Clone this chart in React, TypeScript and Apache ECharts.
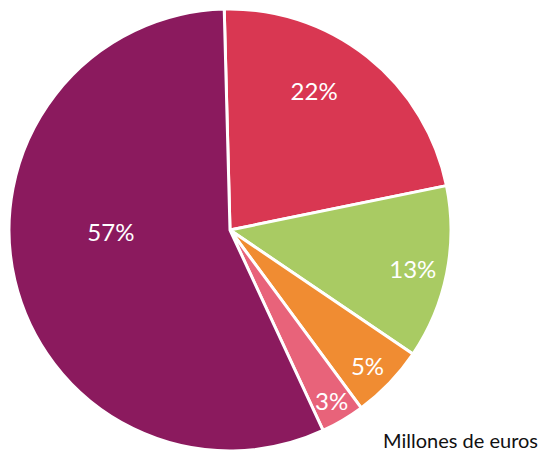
import React, { useEffect, useRef } from "react";
import * as echarts from "echarts";

const categories = ["A", "B", "C", "D", "E"];
const values = [22.2, 12.7, 5.4, 3.2, 56.5];
const labels = ["22%", "13%", "5%", "3%", "57%"];
const colors = ["#D93752", "#A9CB63", "#F08C32", "#E8637A", "#8B1A5E"];
const labelRadiusFactor = [1.437, 1.645, 1.7, 1.75, 1.05];
const labelAngleShift = [7.4, -0.5, -0.7, 0.1, -12.7];
const unitText = "Millones de euros";

const CENTER = [230, 230];
const RADIUS = 221;

export default function App() {
  const ref = useRef<HTMLDivElement>(null);
  useEffect(() => {
    document.body.style.margin = "0";
    const chart = echarts.init(ref.current!, null, { renderer: "svg" });
    chart.setOption({
      animation: false,
      backgroundColor: "#ffffff",
      graphic: [
        {
          type: "text",
          right: 4,
          bottom: 2,
          style: {
            text: unitText,
            fill: "#111111",
            fontSize: 20,
            fontFamily: "Lato",
          },
        },
      ],
      series: [
        {
          type: "pie",
          center: CENTER,
          radius: RADIUS,
          startAngle: 91.5,
          clockwise: true,
          avoidLabelOverlap: false,
          itemStyle: { borderColor: "#ffffff", borderWidth: 3 },
          label: {
            show: true,
            position: "inside",
            color: "#ffffff",
            fontSize: 24,
            fontFamily: "Lato",
            formatter: (p: any) => labels[p.dataIndex],
          },
          labelLine: { show: false },
          labelLayout: (params: any) => {
            const i = params.dataIndex;
            const lr = params.labelRect;
            const lx = lr.x + lr.width / 2;
            const ly = lr.y + lr.height / 2;
            const dx = lx - CENTER[0];
            const dy = CENTER[1] - ly;
            const r = Math.hypot(dx, dy) * labelRadiusFactor[i];
            const a = Math.atan2(dy, dx) + (labelAngleShift[i] * Math.PI) / 180;
            return {
              x: CENTER[0] + r * Math.cos(a),
              y: CENTER[1] - r * Math.sin(a),
              align: "center",
              verticalAlign: "middle",
            };
          },
          data: categories.map((c, i) => ({
            name: c,
            value: values[i],
            itemStyle: { color: colors[i] },
          })),
        },
      ],
    });
    return () => chart.dispose();
  }, []);
  return (
    <div
      ref={ref}
      style={{ position: "fixed", left: 0, top: 0, width: 542, height: 452 }}
    />
  );
}
